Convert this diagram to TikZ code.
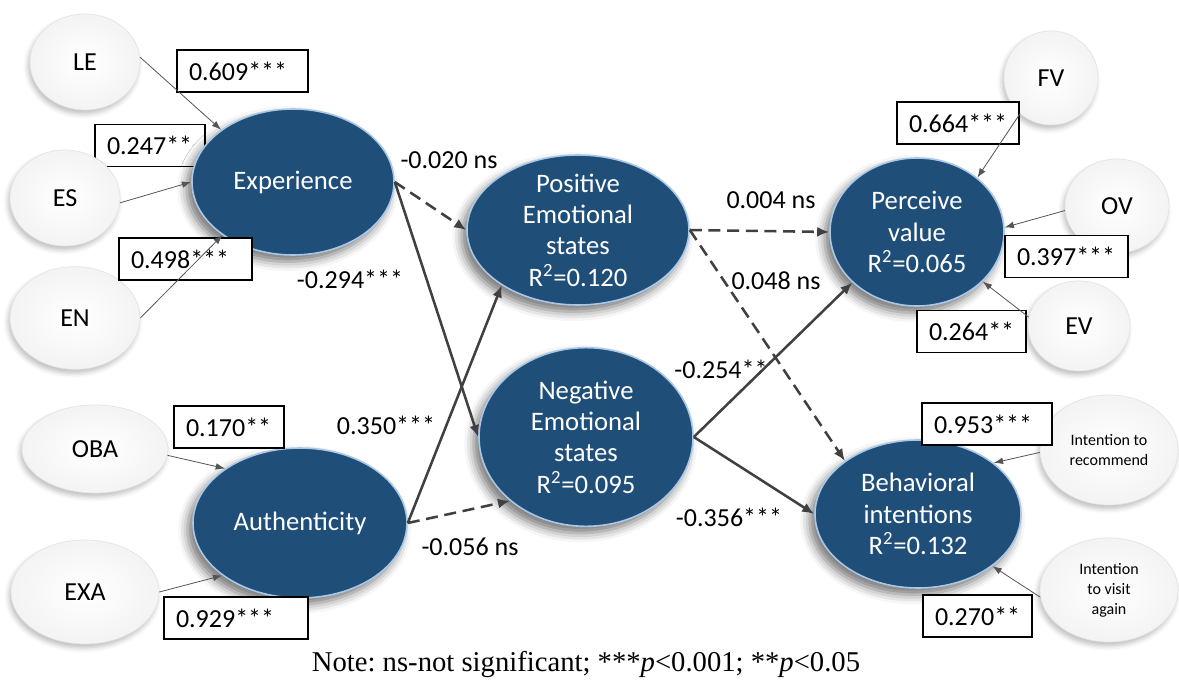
\documentclass[tikz,border=0pt]{standalone}
\usepackage{fontspec}
\setmainfont{Carlito}
\newfontfamily\notefont{Liberation Serif}
\usetikzlibrary{shapes.geometric,arrows.meta,shadows.blur}
\definecolor{cblue}{RGB}{31,78,121}
\definecolor{crim}{RGB}{170,200,230}
\definecolor{carrow}{RGB}{64,64,64}
\definecolor{cthin}{RGB}{85,85,85}
\tikzset{
  big/.style={ellipse, fill=cblue, draw=crim, line width=1.2pt, inner sep=0pt,
    blur shadow={shadow xshift=-4pt, shadow yshift=-5pt, shadow blur radius=7pt, shadow opacity=55}},
  ctext/.style={text=white, align=center, inner sep=0pt, font=\fontsize{20}{23.5}\selectfont},
  small/.style={ellipse, draw=gray!22, line width=0.5pt, inner color=white, outer color=gray!9,
    inner sep=0pt, align=center, font=\fontsize{19.5}{23.5}\selectfont,
    blur shadow={shadow xshift=-1.5pt, shadow yshift=-3pt, shadow blur radius=3.5pt, shadow opacity=25}},
  tiny/.style={font=\fontsize{12}{15}\selectfont},
  lbox/.style={draw=black, line width=0.8pt, fill=white, inner xsep=9pt, inner ysep=0pt,
    minimum height=31.5pt, align=left, text width=#1, font=\fontsize{19.5}{23.5}\selectfont},
  thinarr/.style={draw=cthin, line width=0.6pt, -{Latex[length=7pt,width=5pt]}},
  solidarr/.style={draw=carrow, line width=1.9pt, -{Latex[length=9pt,width=7.5pt]}},
  dasharr/.style={solidarr, dash pattern=on 9pt off 5pt},
  elab/.style={inner sep=0pt, font=\fontsize{19.5}{23.5}\selectfont},
}
\begin{document}
\frenchspacing
\begin{tikzpicture}[x=0.75pt,y=-0.75pt]
\useasboundingbox (0,0) rectangle (1179,685);

% box partly hidden behind ellipses
\node[lbox=64.5pt] (b247) at (150,145.5) {0.247**};

% indicator ellipses
\node[small, minimum width=82.5pt, minimum height=72pt] (LE) at (85,62) {LE};
\node[small, minimum width=82.5pt, minimum height=72pt] (ES) at (65,198) {ES};
\node[small, minimum width=97.5pt, minimum height=77pt] (EN) at (75,318) {EN};
\node[small, minimum width=109.5pt, minimum height=66pt] (OBA) at (95,449) {OBA};
\node[small, minimum width=111pt, minimum height=78pt] (EXA) at (85,592) {EXA};
\node[small, minimum width=70.5pt, minimum height=70.5pt] (FV) at (1051,78) {FV};
\node[small, minimum width=78pt, minimum height=70.5pt] (OV) at (1117,206) {OV};
\node[small, minimum width=76.5pt, minimum height=67.5pt] (EV) at (1079,326) {EV};
\node[small, tiny, minimum width=103.5pt, minimum height=82.5pt] (Rec) at (1109,450) {Intention to\\recommend};
\node[small, tiny, minimum width=103.5pt, minimum height=78pt] (Vis) at (1109,590) {Intention\\to visit\\again};

% constructs
\node[big, minimum width=151.5pt, minimum height=109.5pt,
  label={[ctext]center:Experience}] (Exp) at (293,182) {};
\node[big, minimum width=160.5pt, minimum height=112.5pt,
  label={[ctext]center:Authenticity}] (Auth) at (300,523) {};
\node[big, minimum width=166.5pt, minimum height=112.5pt,
  label={[ctext]center:{Positive\\Emotional\\states\\R\textsuperscript{2}=0.120}}] (Pos) at (578,230) {};
\node[big, minimum width=160.5pt, minimum height=134pt,
  label={[ctext]center:{Negative\\Emotional\\states\\R\textsuperscript{2}=0.095}}] (Neg) at (586,437) {};
\node[big, minimum width=130.5pt, minimum height=111pt,
  label={[ctext]center:{Perceive\\value\\R\textsuperscript{2}=0.065}}] (Perc) at (917,232) {};
\node[big, minimum width=154.5pt, minimum height=111pt,
  label={[ctext]center:{Behavioral\\intentions\\R\textsuperscript{2}=0.132}}] (Beh) at (918,514) {};

% loading boxes
\node[lbox=80.25pt] (b609) at (242.5,71) {0.609***};
\node[lbox=81.75pt] (b498) at (185.5,259) {0.498***};
\node[lbox=64.5pt] (b170) at (229,427) {0.170**};
\node[lbox=90pt] (b929) at (236,618) {0.929***};
\node[lbox=73.5pt] (b664) at (958,123) {0.664***};
\node[lbox=74.25pt] (b397) at (1066.5,256.5) {0.397***};
\node[lbox=63.75pt] (b264) at (971.5,331.5) {0.264**};
\node[lbox=79.5pt] (b953) at (987,424) {0.953***};
\node[lbox=63.75pt] (b270) at (977.5,616) {0.270**};

% indicator arrows
\draw[thinarr] (LE.5) -- (Exp.144);
\draw[thinarr] (ES.-5) -- (Exp.180);
\draw[thinarr] (EN.east) -- (Exp.217);
\draw[thinarr] (OBA.-5) -- (Auth.144);
\draw[thinarr] (EXA.east) -- (Auth.214);
\draw[thinarr] (FV.229) -- (Perc.42);
\draw[thinarr] (OV.185) -- (Perc.3);
\draw[thinarr] (EV.170) -- (Perc.-37);
\draw[thinarr] (Rec.182) -- (Beh.34);
\draw[thinarr] (Vis.186) -- (Beh.-35);

% structural paths
\draw[dasharr] (Exp.east) -- (Pos.180);
\draw[solidarr] (Exp.east) -- (Neg.180);
\draw[solidarr] (Auth.east) -- (Pos.216);
\draw[dasharr] (Auth.east) -- (Neg.220);
\draw[dasharr] (Pos.east) -- (Perc.180);
\draw[dasharr] (Pos.east) -- (Beh.144);
\draw[solidarr] (Neg.east) -- (Perc.218);
\draw[solidarr] (Neg.east) -- (Beh.180);

% path labels
\node[elab] (l1) at (449,160) {-0.020 ns};
\node[elab] (l2) at (350,279) {-0.294***};
\node[elab] (l3) at (386,425) {0.350***};
\node[elab] (l4) at (470,547) {-0.056 ns};
\node[elab] (l5) at (771,200) {0.004 ns};
\node[elab] (l6) at (776,281) {0.048 ns};
\node[elab] (l7) at (721,369) {-0.254**};
\node[elab] (l8) at (729,517) {-0.356***};

\node[inner sep=0pt, font=\notefont\fontsize{21.5}{25}\selectfont] (note) at (586,664)
  {Note: ns-not significant; ***\textit{p}<0.001; **\textit{p}<0.05};
\end{tikzpicture}
\end{document}
